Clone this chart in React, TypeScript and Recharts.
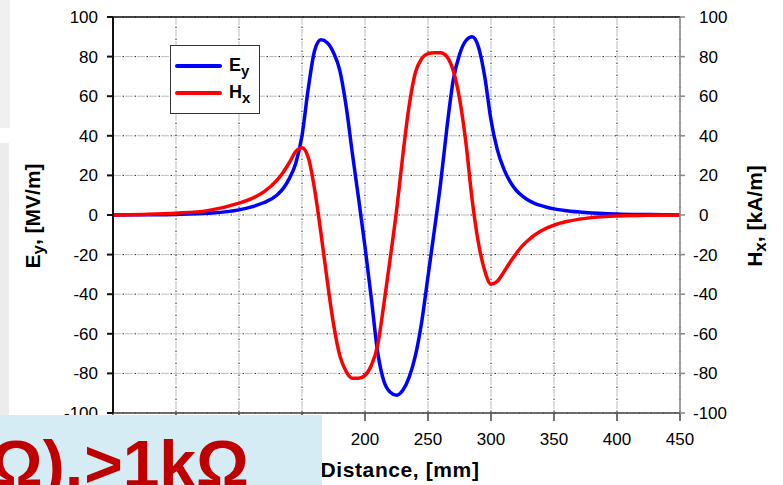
import React from "react"
import { LineChart, Line, XAxis, YAxis, CartesianGrid, Legend, ReferenceLine } from "recharts"

// distance along the line, mm
const distance = [
  0, 25, 50, 75, 100, 110, 120, 130, 135, 140, 145, 150, 155, 160, 165, 170, 175, 180, 185, 190,
  195, 200, 205, 210, 215, 220, 225, 230, 235, 240, 245, 250, 255, 260, 265, 270, 275, 280, 285,
  290, 295, 300, 305, 310, 315, 320, 325, 330, 335, 340, 345, 350, 360, 375, 400, 425, 450,
]

// Ey, MV/m
const eyValues = [
  0, 0.1, 0.3, 0.9, 2.6, 4.1, 6.3, 10, 13.3, 18.5, 26, 40, 64, 83, 88.5, 87, 82, 73, 55, 31,
  8, -16, -42, -69, -84, -89.5, -91, -88.5, -82, -71, -54, -31, -8, 16, 44, 68, 81, 88, 90,
  85, 70, 48, 33, 23.5, 17, 12.5, 9.5, 7.3, 5.8, 4.7, 3.8, 3.1, 2.2, 1.3, 0.5, 0.2, 0,
]

// Hx, kA/m
const hxValues = [
  0, 0.3, 0.9, 2.2, 6, 8.3, 11.8, 17.5, 21.5, 26.5, 32, 34, 29, 13, -9, -33, -55, -71, -79, -82.5,
  -82.5, -81, -76, -66, -45, -22, 2, 30, 55, 72, 79, 81.5, 82, 82, 80, 73, 59, 37, 8,
  -14, -28, -35, -33.5, -29, -24, -19.5, -15.5, -12.5, -10, -8, -6.4, -5.1, -3.3, -1.7, -0.5, -0.1, 0,
]

const xTicks = [0, 50, 100, 150, 200, 250, 300, 350, 400, 450]
const yTicks = [-100, -80, -60, -40, -20, 0, 20, 40, 60, 80, 100]

const data = distance.map((d, i) => ({ d, ey: eyValues[i], hx: hxValues[i] }))

const FONT = '"Liberation Sans", Arial, sans-serif'

const RightTick = (props: any) => {
  const { x, y, payload } = props
  const v = payload.value
  return (
    <text x={x + (v < 0 ? 0 : 6)} y={y} dy="0.35em" textAnchor="start" fontSize={17} fontFamily={FONT} fill="#000">
      {v}
    </text>
  )
}

const LegendBox = (props: any) => {
  const items = props.payload || []
  return (
    <div style={{ width: 90, height: 69, border: "1.5px solid #333", boxSizing: "border-box", background: "#fff" }}>
      <svg width={88} height={66} style={{ display: "block" }}>
        {items.map((it: any, i: number) => {
          const y = 20 + i * 27
          const main = it.value === "ey" ? "E" : "H"
          const sub = it.value === "ey" ? "y" : "x"
          return (
            <g key={it.value}>
              <line x1={6} x2={49} y1={y} y2={y} stroke={it.color} strokeWidth={4} strokeLinecap="round" />
              <text x={58} y={y + 5} fontSize={18} fontWeight="bold" fontFamily={FONT} fill="#000">
                {main}
                <tspan fontSize={15} dy={5}>{sub}</tspan>
              </text>
            </g>
          )
        })}
      </svg>
    </div>
  )
}

export default function App() {
  return (
    <div style={{ position: "absolute", left: 0, top: 0, width: 783, height: 485, background: "#fff", overflow: "hidden", fontFamily: FONT }}>
      <div style={{ position: "absolute", left: 0, top: 0, width: 10, height: 128, background: "#f0f0f0" }} />
      <div style={{ position: "absolute", left: 0, top: 143, width: 9, height: 272, background: "#ececec" }} />
      <LineChart width={783} height={485} data={data} margin={{ top: 17, right: 43, bottom: 32, left: 53 }}>
        <CartesianGrid yAxisId="left" stroke="#bdbdbd" strokeDasharray="8 4" strokeWidth={1} />
        <CartesianGrid yAxisId="left" stroke="#222" strokeDasharray="0 9.5 1.5 1" strokeWidth={1} />
        <XAxis
          dataKey="d"
          type="number"
          domain={[0, 450]}
          ticks={xTicks}
          tickSize={8}
          tickMargin={12}
          stroke="#444"
          strokeWidth={1.5}
          height={40}
          tick={{ fontSize: 17, fill: "#000", fontFamily: FONT }}
          label={() => (
            <text x={400} y={477} textAnchor="middle" fontSize={21} fontWeight="bold" fontFamily={FONT} fill="#000" letterSpacing={0.6}>
              Distance, [mm]
            </text>
          )}
        />
        <YAxis
          yAxisId="left"
          domain={[-100, 100]}
          ticks={yTicks}
          width={60}
          tickSize={6}
          tickMargin={9}
          stroke="#111"
          strokeWidth={2}
          tick={{ fontSize: 17, fill: "#000", fontFamily: FONT }}
          label={() => (
            <text x={40} y={216} transform="rotate(-90 40 216)" textAnchor="middle" fontSize={21} fontWeight="bold" fontFamily={FONT} fill="#000">
              E<tspan fontSize={17} dy={4}>y</tspan>
              <tspan dy={-4}>, [MV/m]</tspan>
            </text>
          )}
        />
        <YAxis
          yAxisId="right"
          orientation="right"
          domain={[-100, 100]}
          ticks={yTicks}
          width={60}
          tickSize={5}
          tickMargin={8}
          stroke="#888"
          strokeWidth={1.5}
          tick={<RightTick />}
          label={() => (
            <text x={762} y={216} transform="rotate(-90 762 216)" textAnchor="middle" fontSize={21} fontWeight="bold" fontFamily={FONT} fill="#000">
              H<tspan fontSize={17} dy={4}>x</tspan>
              <tspan dy={-4}>, [kA/m]</tspan>
            </text>
          )}
        />
        <ReferenceLine yAxisId="left" y={100} stroke="#111" strokeWidth={1.5} />
        <Legend
          layout="vertical"
          align="center"
          verticalAlign="middle"
          content={<LegendBox />}
          wrapperStyle={{ left: 170, top: 45, width: 90, height: 69 }}
        />
        <Line yAxisId="left" dataKey="ey" name="ey" type="monotone" stroke="#0000ff" strokeWidth={3.5} dot={false} isAnimationActive={false} />
        <Line yAxisId="right" dataKey="hx" name="hx" type="monotone" stroke="#ff0000" strokeWidth={3.5} dot={false} isAnimationActive={false} />
      </LineChart>
      <div style={{ position: "absolute", left: 0, top: 415, width: 322, height: 70, background: "#d5ecf5", overflow: "hidden" }}>
        <svg width={322} height={70} style={{ display: "block" }}>
          <text x={83} y={72} textAnchor="end" fontSize={66} fontWeight="bold" fontFamily={FONT} fill="#c00000">
            Ω),
          </text>
          <text x={249} y={72} textAnchor="end" fontSize={66} fontWeight="bold" fontFamily={FONT} fill="#c00000">
            &gt;1kΩ
          </text>
        </svg>
      </div>
    </div>
  )
}
